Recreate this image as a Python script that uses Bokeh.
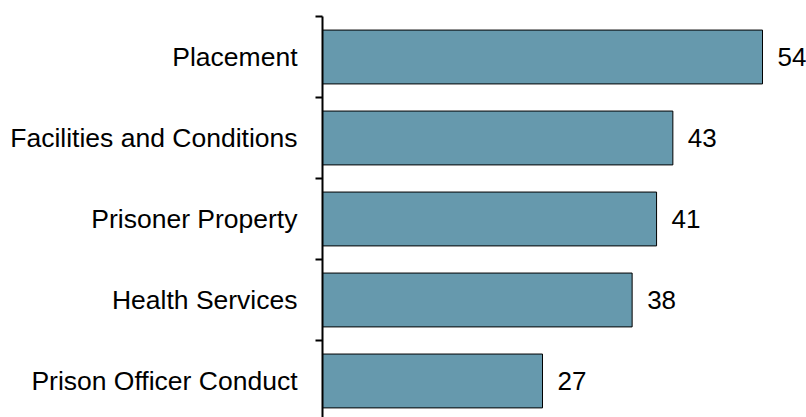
from bokeh.plotting import figure
from bokeh.models import Range1d, FixedTicker, ColumnDataSource
from bokeh.core.properties import value
from bokeh.embed import file_html
from bokeh.resources import INLINE

categories = ["Placement", "Facilities and Conditions", "Prisoner Property",
              "Health Services", "Prison Officer Conduct"]
counts = [54, 43, 41, 38, 27]

n = len(categories)
ypos = [n - 1 - i for i in range(n)]
src = ColumnDataSource(dict(y=ypos, v=counts, lab=[str(c) for c in counts]))

p = figure(width=806, height=417, output_backend="svg", toolbar_location=None,
           x_range=Range1d(0, 59.4), y_range=Range1d(-0.451, n - 0.5),
           x_axis_location=None, y_axis_location="left",
           min_border_left=322, min_border_right=0, min_border_top=16,
           min_border_bottom=0)

p.hbar(y="y", right="v", left=0, height=0.665, fill_color="#6699AD",
       line_color="black", line_width=1, source=src)
p.text(x="v", y="y", text="lab", x_offset=15, text_baseline="middle",
       text_align="left", text_font=value("Liberation Sans"),
       text_font_size="26px", text_color="black", source=src)

ax = p.yaxis[0]
ax.ticker = FixedTicker(ticks=ypos, minor_ticks=[i - 0.5 for i in range(n + 1)])
ax.major_label_overrides = {y: c for y, c in zip(ypos, categories)}
ax.major_tick_out = 0
ax.major_tick_in = 0
ax.minor_tick_out = 7
ax.minor_tick_in = 0
ax.minor_tick_line_color = "black"
ax.minor_tick_line_width = 2
ax.axis_line_color = "black"
ax.axis_line_width = 2
ax.major_label_text_font = "Liberation Sans"
ax.major_label_text_font_size = "26.5px"
ax.major_label_text_color = "black"
ax.major_label_standoff = 18

p.grid.visible = False
p.outline_line_color = None

open("out.html", "w").write(file_html(p, INLINE))
